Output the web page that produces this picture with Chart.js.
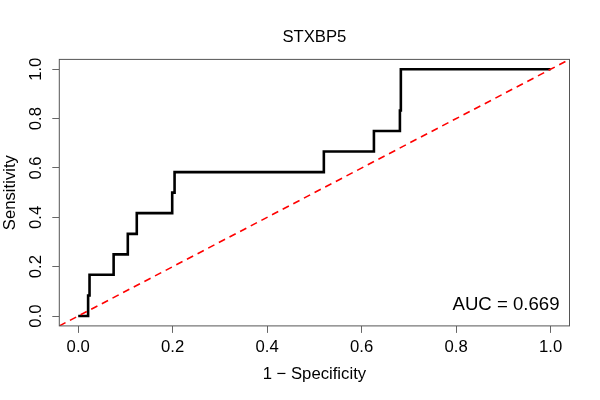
<!DOCTYPE html>
<html>
<head>
<meta charset="utf-8">
<script src="https://cdn.jsdelivr.net/npm/chart.js@4.4.1/dist/chart.umd.min.js"></script>
<style>
  html, body { margin: 0; padding: 0; background: #fff; }
  #wrap { width: 600px; height: 400px; }
</style>
</head>
<body>
<div id="wrap"><canvas id="roc-chart" width="600" height="400"></canvas></div>
<script>
// ROC curve points (1 - specificity, sensitivity)
const fpr = [0, 0.021, 0.021, 0.024, 0.024, 0.075, 0.075, 0.105, 0.105, 0.124, 0.124,
  0.199, 0.199, 0.204, 0.204, 0.520, 0.520, 0.626, 0.626, 0.681, 0.681, 0.683, 0.683, 1.0];
const tpr = [0, 0, 0.083, 0.083, 0.167, 0.167, 0.25, 0.25, 0.333, 0.333, 0.417,
  0.417, 0.5, 0.5, 0.583, 0.583, 0.667, 0.667, 0.75, 0.75, 0.833, 0.833, 1.0, 1.0];
// reference diagonal
const diagX = [-0.04, 1.04];
const diagY = [-0.04, 1.04];
const tickValues = [0, 0.2, 0.4, 0.6, 0.8, 1.0];
const tickLabels = ["0.0", "0.2", "0.4", "0.6", "0.8", "1.0"];
const titleText = "STXBP5";
const aucText = "AUC = 0.669";

const FONT = "'Liberation Sans', Arial, Helvetica, sans-serif";

function toPoints(xs, ys) {
  return xs.map((x, i) => ({ x: x, y: ys[i] }));
}

// box, title over the plot area, rotated y tick labels and AUC text
const rocDecor = {
  id: "rocDecor",
  afterDraw(chart) {
    const ctx = chart.ctx;
    const area = chart.chartArea;
    const yScale = chart.scales.y;
    ctx.save();
    ctx.strokeStyle = "#555";
    ctx.lineWidth = 1;
    ctx.strokeRect(area.left, area.top, area.right - area.left, area.bottom - area.top);

    ctx.fillStyle = "#000";
    ctx.font = "16.7px " + FONT;
    ctx.textAlign = "center";
    ctx.textBaseline = "middle";
    ctx.fillText(titleText, (area.left + area.right) / 2, 37);

    tickValues.forEach((v, i) => {
      const py = yScale.getPixelForValue(v);
      ctx.save();
      ctx.translate(36, py);
      ctx.rotate(-Math.PI / 2);
      ctx.fillText(tickLabels[i], 0, 0);
      ctx.restore();
    });

    ctx.font = "18.6px " + FONT;
    ctx.textAlign = "right";
    ctx.textBaseline = "alphabetic";
    ctx.fillText(aucText, 559.5, 309.5);
    ctx.restore();
  },
};

function initializeRocChart() {
  const ctx = document.getElementById("roc-chart").getContext("2d");

  new Chart(ctx, {
    type: "line",
    data: {
      datasets: [
        {
          label: "diagonal",
          data: toPoints(diagX, diagY),
          borderColor: "#ff0000",
          borderWidth: 1.6,
          borderDash: [7, 5],
          pointRadius: 0,
          tension: 0,
        },
        {
          label: "ROC",
          data: toPoints(fpr, tpr),
          borderColor: "#000000",
          borderWidth: 2.6,
          pointRadius: 0,
          tension: 0,
        },
      ],
    },
    options: {
      responsive: false,
      animation: false,
      devicePixelRatio: 1,
      layout: {
        padding: { top: 59.4, left: 0, right: 30.5, bottom: 0 },
      },
      plugins: {
        legend: { display: false },
        tooltip: { enabled: false },
        title: { display: false },
      },
      scales: {
        x: {
          type: "linear",
          min: -0.04,
          max: 1.04,
          afterBuildTicks: (scale) => {
            scale.ticks = tickValues.map((v) => ({ value: v }));
          },
          afterFit: (scale) => {
            scale.height = 74.1;
          },
          grid: {
            display: true,
            drawOnChartArea: false,
            drawTicks: true,
            tickLength: 7,
            color: "#666",
          },
          border: { display: false },
          ticks: {
            color: "#000",
            padding: 4,
            maxRotation: 0,
            font: { family: FONT, size: 16.7 },
            callback: (v) => tickLabels[tickValues.indexOf(v)] ?? "",
          },
          title: {
            display: true,
            text: "1 \u2212 Specificity",
            color: "#000",
            font: { family: FONT, size: 16.7, lineHeight: 1.2 },
            padding: { top: 0, bottom: 15.4 },
          },
        },
        y: {
          type: "linear",
          min: -0.04,
          max: 1.04,
          afterBuildTicks: (scale) => {
            scale.ticks = tickValues.map((v) => ({ value: v }));
          },
          afterFit: (scale) => {
            scale.width = 59.3;
          },
          grid: {
            display: true,
            drawOnChartArea: false,
            drawTicks: true,
            tickLength: 7,
            color: "#666",
          },
          border: { display: false },
          ticks: {
            display: false,
          },
          title: {
            display: true,
            text: "Sensitivity",
            color: "#000",
            font: { family: FONT, size: 16.7, lineHeight: 1.2 },
            padding: { top: 0.4, bottom: 0 },
          },
        },
      },
    },
    plugins: [rocDecor],
  });
}

document.addEventListener("DOMContentLoaded", () => {
  initializeRocChart();
});
</script>
</body>
</html>
